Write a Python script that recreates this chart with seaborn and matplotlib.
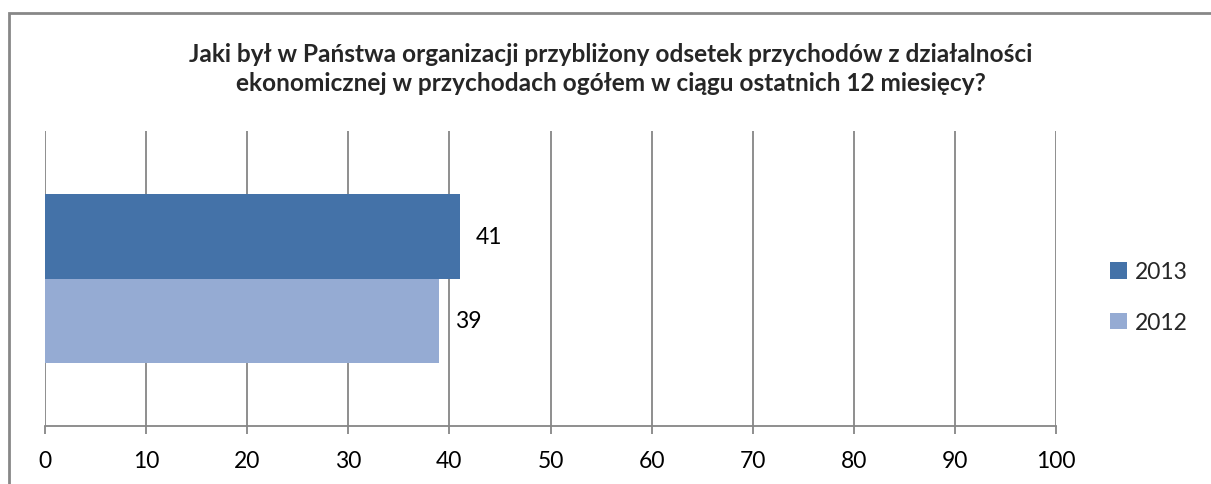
import matplotlib
matplotlib.use("Agg")
import matplotlib.pyplot as plt
import seaborn as sns
import pandas as pd
from matplotlib.patches import Rectangle, Patch

# Survey values (percent)
category = ["odsetek"]
years = ["2013", "2012"]
values = [41, 39]
colors = ["#4472A8", "#95ABD3"]
x_ticks = [0, 10, 20, 30, 40, 50, 60, 70, 80, 90, 100]
title = ("Jaki był w Państwa organizacji przybliżony odsetek przychodów z działalności\n"
         "ekonomicznej w przychodach ogółem w ciągu ostatnich 12 miesięcy?")

df = pd.DataFrame({"kategoria": category * len(years), "rok": years, "wartosc": values})

sns.set_theme(style="white")
plt.rcParams["font.family"] = ["Lato", "DejaVu Sans"]

W, H = 1211, 485
fig = plt.figure(figsize=(W / 100, H / 100), dpi=100)
ax = fig.add_axes([45 / W, 1 - 427 / H, (1056 - 45) / W, (427 - 132) / H])

sns.barplot(data=df, y="kategoria", x="wartosc", hue="rok", hue_order=years,
            palette=colors, orient="h", width=0.576, saturation=1,
            linewidth=0, edgecolor="none", legend=False, ax=ax, zorder=3)

grid = "#868686"
fs = 16.5
ax.set_xlim(0, 100)
ax.set_ylim(0.5, -0.5)
ax.set_xticks(x_ticks)
ax.set_xticklabels([str(t) for t in x_ticks], fontsize=fs, color="black")
ax.set_yticks([])
ax.set_xlabel("")
ax.set_ylabel("")
for t in x_ticks:
    ax.axvline(t, color=grid, lw=1.3, zorder=1)
for s in ["top", "right", "left"]:
    ax.spines[s].set_visible(False)
ax.spines["bottom"].set_color(grid)
ax.spines["bottom"].set_linewidth(1.3)
ax.tick_params(axis="x", direction="out", length=6, width=1.3, color=grid, pad=11, bottom=True)

# value labels
for bar, v in zip(ax.patches, values):
    y = bar.get_y() + bar.get_height() / 2
    ax.text(bar.get_width() + 1.6, y, f"{v}", va="center", ha="left", fontsize=fs, color="black")

handles = [Patch(facecolor=c, edgecolor="none") for c in colors]
fig.legend(handles, years, loc="center left", bbox_to_anchor=(1110 / W, 1 - 298 / H),
           frameon=False, fontsize=fs, handlelength=0.75, handleheight=0.75,
           handletextpad=0.35, labelspacing=1.3, borderaxespad=0, borderpad=0)

fig.text(611 / W, 1 - 69 / H, title, ha="center", va="center", fontsize=17.6,
         fontweight="bold", linespacing=1.3)

# chart frame
fig.add_artist(Rectangle((8.5 / W, -0.1), 1.2, (1 - 13.5 / H) + 0.1, transform=fig.transFigure,
                         fill=False, edgecolor="#878787", lw=2.0))

fig.savefig("out.png", dpi=100, facecolor="white")
